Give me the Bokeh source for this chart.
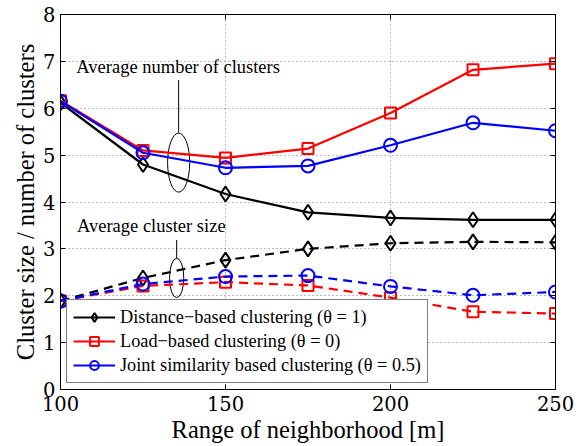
from bokeh.plotting import figure
from bokeh.models import LinearAxis, Range1d, FixedTicker, Legend, LegendItem, Title
from bokeh.core.properties import value
from bokeh.embed import file_html
from bokeh.resources import INLINE

# ---- data ----
x = [100, 125, 150, 175, 200, 225, 250]
dist_num = [6.12, 4.80, 4.17, 3.78, 3.66, 3.62, 3.62]
load_num = [6.16, 5.10, 4.94, 5.14, 5.90, 6.82, 6.95]
joint_num = [6.15, 5.05, 4.73, 4.77, 5.21, 5.69, 5.52]
dist_size = [1.89, 2.38, 2.76, 3.00, 3.12, 3.15, 3.14]
load_size = [1.89, 2.21, 2.29, 2.22, 1.96, 1.66, 1.62]
joint_size = [1.89, 2.25, 2.41, 2.43, 2.20, 2.01, 2.08]

x_ticks = [100, 150, 200, 250]
y_ticks = [0, 1, 2, 3, 4, 5, 6, 7, 8]
x_title = "Range of neighborhood [m]"
y_title = "Cluster size / number of clusters"

labels = ["Distance\u2212based clustering (\u03b8 = 1)",
          "Load\u2212based clustering (\u03b8 = 0)",
          "Joint similarity based clustering (\u03b8 = 0.5)"]
colors = ["black", "red", "blue"]
markers = ["diamond", "square", "circle"]
marker_sizes = [15, 11, 13]

ann_text = ["Average number of clusters", "Average cluster size"]
ann_x = [104.8, 105.0]
ann_y = [6.88, 3.48]
ell_x = [135.8, 135.2]
ell_y = [4.84, 2.38]
ell_w = [6.7, 4.3]
ell_h = [1.26, 0.84]
stem_x = [135.8, 135.2]
stem_y0 = [6.60, 3.19]
stem_y1 = [5.48, 2.80]

FONT = "Times New Roman"
AXFONT = "DejaVu Serif"

p = figure(width=587, height=446, output_backend="svg", toolbar_location=None,
           x_range=Range1d(100, 250), y_range=Range1d(0, 8),
           min_border_left=60, min_border_right=32, min_border_top=14,
           min_border_bottom=57, background_fill_color="white",
           border_fill_color="white")
p.outline_line_color = "black"
p.outline_line_width = 1

p.xaxis[0].ticker = FixedTicker(ticks=x_ticks)
p.yaxis[0].ticker = FixedTicker(ticks=y_ticks)
for ax in (p.xaxis[0], p.yaxis[0]):
    ax.major_label_text_font = AXFONT
    ax.major_label_text_font_size = "19.5px"
    ax.major_label_text_color = "black"
    ax.major_tick_in = 5
    ax.major_tick_out = 0
    ax.minor_tick_line_color = None
    ax.axis_line_color = "black"
    ax.major_tick_line_color = "black"
p.xaxis[0].major_label_standoff = 6
p.yaxis[0].major_label_standoff = 5

for loc, ticks in (("above", x_ticks), ("right", y_ticks)):
    a = LinearAxis(ticker=FixedTicker(ticks=ticks))
    a.major_label_text_color = None
    a.major_label_text_font_size = "1px"
    a.major_label_standoff = 0
    a.major_tick_in = 5
    a.major_tick_out = 0
    a.minor_tick_line_color = None
    a.axis_line_color = "black"
    p.add_layout(a, loc)

# axis titles as Title annotations (serif font)
p.add_layout(Title(text=x_title, align="center", text_font=FONT,
                   text_font_size="24.5px", text_font_style="normal",
                   text_color="black", standoff=0), "below")
p.add_layout(Title(text=y_title, align="center", text_font=FONT,
                   text_font_size="24.5px", text_font_style="normal",
                   text_color="black", standoff=4), "left")

p.grid.grid_line_color = "#777777"
p.grid.grid_line_dash = "1 3"
p.grid.grid_line_width = 1
p.xgrid.ticker = FixedTicker(ticks=x_ticks)
p.ygrid.ticker = FixedTicker(ticks=y_ticks)

# annotations
p.text(x=ann_x, y=ann_y, text=ann_text, text_font=value(FONT),
       text_font_size="18.5px", text_baseline="middle", text_align="left",
       text_color="black")
p.ellipse(x=ell_x, y=ell_y, width=ell_w, height=ell_h, fill_color=None,
          line_color="black", line_width=1)
p.segment(x0=stem_x, y0=stem_y0, x1=stem_x, y1=stem_y1, line_color="black",
          line_width=1)

series_num = [dist_num, load_num, joint_num]
series_size = [dist_size, load_size, joint_size]
items = []
for i in range(3):
    p.line(x, series_size[i], line_color=colors[i], line_width=2.2,
           line_dash="9 6")
    p.scatter(x, series_size[i], marker=markers[i], size=marker_sizes[i],
              fill_color=None, line_color=colors[i], line_width=2)
for i in range(3):
    l = p.line(x, series_num[i], line_color=colors[i], line_width=2.2)
    s = p.scatter(x, series_num[i], marker=markers[i], size=marker_sizes[i],
                  fill_color=None, line_color=colors[i], line_width=2)
    items.append(LegendItem(label=labels[i], renderers=[l, s]))

legend = Legend(items=items, location="bottom_left")
legend.label_text_font = FONT
legend.label_text_font_size = "18.3px"
legend.label_text_color = "black"
legend.border_line_color = "black"
legend.border_line_width = 1
legend.background_fill_color = "white"
legend.background_fill_alpha = 1
legend.glyph_width = 42
legend.glyph_height = 22
legend.label_height = 22
legend.label_standoff = 5
legend.spacing = 2
legend.padding = 6
legend.margin = 6
p.add_layout(legend, "center")

open("out.html", "w").write(file_html(p, INLINE))
